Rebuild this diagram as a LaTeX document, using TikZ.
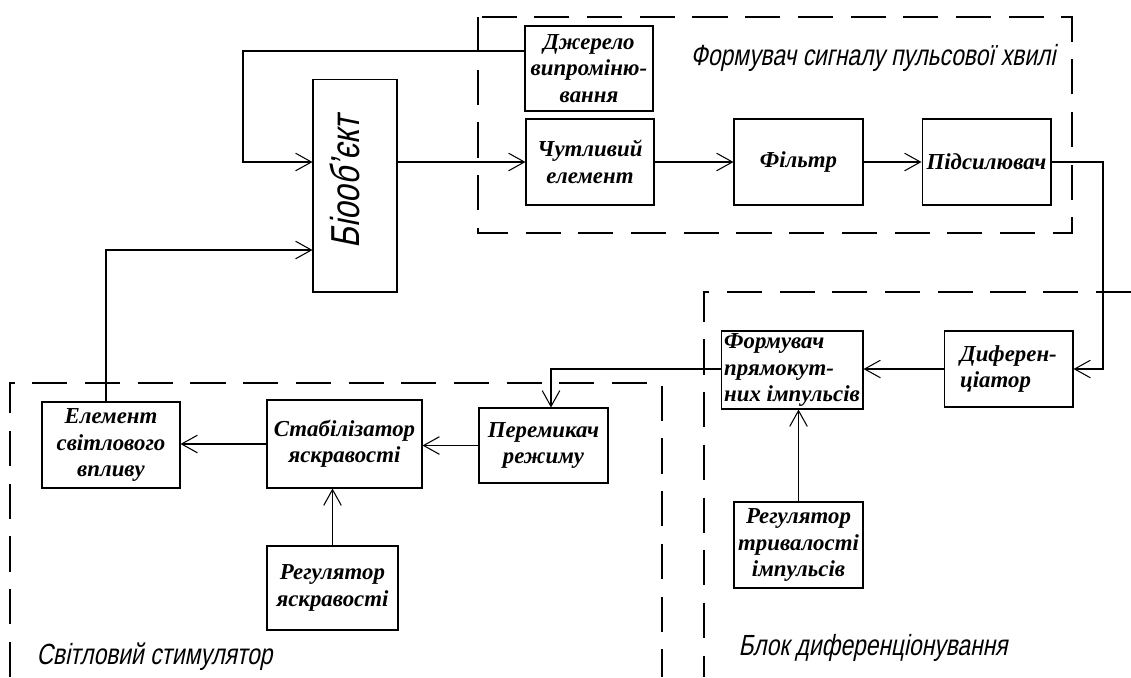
\documentclass[tikz,border=0pt]{standalone}
\usepackage{fontspec}
\setmainfont{Liberation Serif}
\newfontfamily\gost[FakeStretch=0.78,FakeSlant=0.2]{Liberation Sans}
\usetikzlibrary{arrows.meta}
\tikzset{>={Straight Barb[length=9pt,width=10pt]}}
\tikzset{blok/.style={draw,inner sep=1pt,align=center,
    font=\fontsize{13}{15}\selectfont\bfseries\itshape},
  zona/.style={dash pattern=on 20pt off 10pt},
  napys/.style={font=\gost\fontsize{16.6}{16.6}\selectfont,inner sep=0pt}}

\begin{document}
\begin{tikzpicture}[x=0.02cm,y=-0.02cm,line width=0.6pt]
            \useasboundingbox (0,0) rectangle (1131,677);
            % zones
            \draw[zona] (478,17) rectangle (1072,233);
            \draw[zona] (1131,292) -- (704,292) -- (704,677);
            \draw[zona] (10,677) -- (10,383) -- (662,383) -- (662,677);
            \node[napys,anchor=base west] (z1) at (690,65){Формувач сигналу пульсової хвилі};
            \node[napys,anchor=base west] (z2) at (738,655){Блок диференціонування};
            \node[napys,anchor=base west] (z3) at (36,664){Світловий стимулятор};
            % blocks
            \node[blok,minimum width=1.68cm,minimum height=4.26cm] (obj) at (355,185.5){};
            \node[rotate=90,inner sep=0pt,font=\gost\fontsize{23}{23}\selectfont] (objt) at (345,182){Біооб’єкт};
            \node[blok,minimum width=2.56cm,minimum height=1.70cm] (dzh) at (589,68.5){Джерело\\випроміню-\\вання};
            \node[blok,minimum width=2.56cm,minimum height=1.72cm] (chut) at (590,162){Чутливий\\елемент};
            \node[blok,minimum width=2.58cm,minimum height=1.72cm] (filtr) at (798.5,162){Фільтр};
            \node[blok,minimum width=2.58cm,minimum height=1.72cm] (pids) at (986.5,162){Підсилювач};
            \node[blok,align=left,minimum width=2.58cm,minimum height=1.52cm] (dyf) at (1008.5,369){Диферен-\\ціатор};
            \node[blok,align=left,minimum width=2.84cm,minimum height=1.56cm] (form) at (792,370){Формувач\\прямокут-\\них імпульсів};
            \node[blok,minimum width=2.58cm,minimum height=1.72cm] (regt) at (798.5,545){Регулятор\\тривалості\\імпульсів};
            \node[blok,minimum width=2.58cm,minimum height=1.50cm] (perem) at (543.5,445.5){Перемикач\\режиму};
            \node[blok,minimum width=3.10cm,minimum height=1.76cm] (stab) at (344.5,444){Стабілізатор\\яскравості};
            \node[blok,minimum width=2.76cm,minimum height=1.72cm] (elem) at (111,445){Елемент\\світлового\\впливу};
            \node[blok,minimum width=2.62cm,minimum height=1.68cm] (regya) at (332.5,588){Регулятор\\яскравості};
            % links
            \coordinate (k1) at (243,51);
            \coordinate (k2) at (1103,163);
            \coordinate (k3) at (551,369);
            \coordinate (k4) at (106,250);
            \draw[->] (k1 -| dzh.west) -- (k1) |- (obj.west |- chut.west);
            \draw[->] (obj.east |- chut.west) -- (chut.west);
            \draw[->] (chut) -- (filtr);
            \draw[->] (filtr) -- (pids);
            \draw[->] (pids.east) -- (pids.east -| k2) |- (dyf.east);
            \draw[->] (dyf.west) -- (dyf.west -| form.east);
            \draw[->] (form.west |- k3) -- (k3) -- (k3 |- perem.north);
            \draw[->] (regt.north) -- (regt.north |- form.south);
            \draw[->] (perem.west) -- (perem.west -| stab.east);
            \draw[->] (stab.west) -- (stab.west -| elem.east);
            \draw[->] (regya.north) -- (regya.north |- stab.south);
            \draw[->] (k4 |- elem.north) -- (k4) -- (k4 -| obj.west);
        \end{tikzpicture}
\end{document}
